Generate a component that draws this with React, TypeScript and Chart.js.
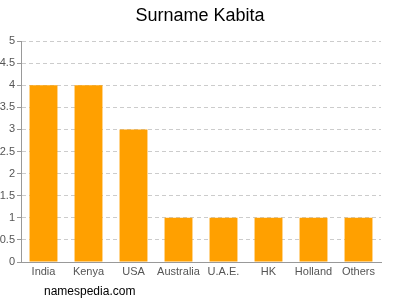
import React, { useEffect, useRef } from "react";
import { Chart, registerables } from "chart.js";

Chart.register(...registerables);

const categories = ["India", "Kenya", "USA", "Australia", "U.A.E.", "HK", "Holland", "Others"];
const counts = [4, 4, 3, 1, 1, 1, 1, 1];
const titleText = "Surname Kabita";
const footerText = "namespedia.com";

const textPlugin = {
  id: "texts",
  afterDraw(chart: any) {
    const ctx = chart.ctx;
    ctx.save();
    ctx.fillStyle = "#000";
    ctx.textBaseline = "middle";
    ctx.textAlign = "center";
    ctx.font = "18px 'Liberation Sans', Arial, sans-serif";
    ctx.fillText(titleText, 200, 16);
    ctx.textAlign = "left";
    ctx.font = "12px 'Liberation Sans', Arial, sans-serif";
    ctx.fillText(footerText, 44, 292);
    ctx.restore();
  },
};

export default function App() {
  const ref = useRef<HTMLCanvasElement>(null);
  useEffect(() => {
    document.body.style.margin = "0";
    const chart = new Chart(ref.current!, {
      type: "bar",
      data: {
        labels: categories,
        datasets: [
          {
            data: counts,
            backgroundColor: "#FFA000",
            borderWidth: 0,
            barPercentage: 0.62,
            categoryPercentage: 1,
          },
        ],
      },
      options: {
        animation: false,
        responsive: false,
        layout: { padding: { top: 41, left: 0, right: 19, bottom: 0 } },
        plugins: { legend: { display: false }, title: { display: false }, tooltip: { enabled: false } },
        scales: {
          x: {
            grid: { display: false, drawTicks: false },
            border: { display: true, color: "#999" },
            ticks: {
              color: "#555",
              font: { family: "'Liberation Sans', Arial, sans-serif", size: 11 },
              padding: 3,
              maxRotation: 0,
              autoSkip: false,
            },
            afterFit: (s: any) => {
              s.height = 38;
            },
          },
          y: {
            min: 0,
            max: 5,
            ticks: {
              stepSize: 0.5,
              color: "#555",
              font: { family: "'Liberation Sans', Arial, sans-serif", size: 11 },
              padding: 2,
              callback: (v: any) => String(Number(v)),
            },
            grid: {
              color: "#ccc",
              tickColor: "#999",
              tickLength: 4,
              tickBorderDash: [],
            },
            border: { display: true, color: "#999", dash: [4, 3] },
            afterFit: (s: any) => {
              s.width = 21;
            },
          },
        },
      },
      plugins: [textPlugin],
    });
    return () => chart.destroy();
  }, []);
  return (
    <div style={{ width: 400, height: 300 }}>
      <canvas ref={ref} width={400} height={300} />
    </div>
  );
}
